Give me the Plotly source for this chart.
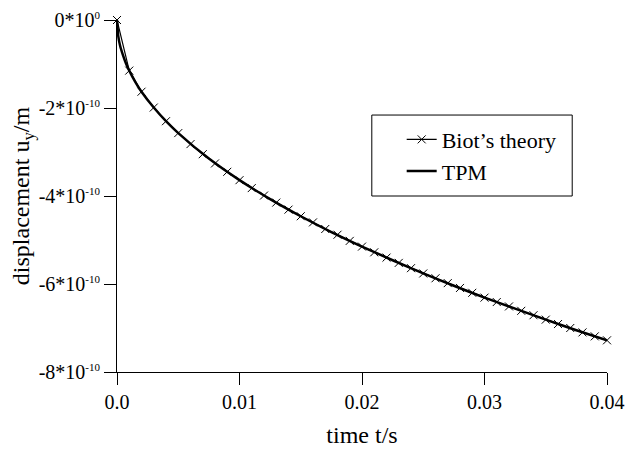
import plotly.graph_objects as go

# Biot's theory: time [s] and displacement [1e-10 m] (every 0.001 s)
biot_t = [0.000, 0.001, 0.002, 0.003, 0.004, 0.005, 0.006, 0.007, 0.008, 0.009,
          0.010, 0.011, 0.012, 0.013, 0.014, 0.015, 0.016, 0.017, 0.018, 0.019,
          0.020, 0.021, 0.022, 0.023, 0.024, 0.025, 0.026, 0.027, 0.028, 0.029,
          0.030, 0.031, 0.032, 0.033, 0.034, 0.035, 0.036, 0.037, 0.038, 0.039, 0.040]
biot_u = [0.00, -1.15, -1.63, -1.99, -2.30, -2.57, -2.82, -3.05, -3.26, -3.45,
          -3.64, -3.82, -3.99, -4.15, -4.31, -4.46, -4.60, -4.75, -4.88, -5.02,
          -5.15, -5.28, -5.40, -5.52, -5.64, -5.76, -5.87, -5.98, -6.09, -6.20,
          -6.31, -6.41, -6.51, -6.61, -6.71, -6.81, -6.91, -7.00, -7.10, -7.19, -7.28]

# TPM curve: time [s] and displacement [1e-10 m]
tpm_t = [0.0, 0.0001, 0.00025, 0.0005, 0.00075, 0.001, 0.0015, 0.002, 0.003, 0.004,
         0.005, 0.0075, 0.010, 0.0125, 0.015, 0.0175, 0.020, 0.0225, 0.025,
         0.0275, 0.030, 0.0325, 0.035, 0.0375, 0.040]
tpm_u = [0.00, -0.36, -0.58, -0.81, -1.00, -1.15, -1.41, -1.63, -1.99, -2.30,
         -2.57, -3.15, -3.64, -4.07, -4.46, -4.82, -5.15, -5.46, -5.76,
         -6.04, -6.31, -6.56, -6.81, -7.05, -7.28]

x_ticks = [0.0, 0.01, 0.02, 0.03, 0.04]
x_ticktext = ["0.0", "0.01", "0.02", "0.03", "0.04"]
y_ticks = [0, -2, -4, -6, -8]
y_mant = ["0", "-2", "-4", "-6", "-8"]
y_exp = ["0", "-10", "-10", "-10", "-10"]
y_ticktext = [f"{m}*10<sup><span style='font-size:11px'>{e}</span></sup>"
              for m, e in zip(y_mant, y_exp)]

scale = 1e-10
font = "Liberation Serif, Times New Roman, serif"

fig = go.Figure()
fig.add_trace(go.Scatter(
    x=biot_t, y=[v * scale for v in biot_u], name="Biot\u2019s theory",
    mode="lines+markers", line=dict(color="black", width=1.2),
    marker=dict(symbol="x-thin", size=8, line=dict(color="black", width=1)),
    cliponaxis=False))
fig.add_trace(go.Scatter(
    x=tpm_t, y=[v * scale for v in tpm_u], name="TPM",
    mode="lines", line=dict(color="black", width=2.5, shape="spline", smoothing=0.6),
    cliponaxis=False))

# the page places the figure 8 px from the top-left corner
fig.update_layout(
    width=633, height=441,
    margin=dict(l=109, r=34, t=12, b=77),
    paper_bgcolor="white", plot_bgcolor="white",
    font=dict(family=font, size=20, color="black"),
    showlegend=True,
    legend=dict(x=0.581, y=0.72, xanchor="left", yanchor="top",
                borderwidth=0, bgcolor="rgba(0,0,0,0)",
                font=dict(family=font, size=22, color="black"),
                tracegroupgap=0, itemwidth=30),
    shapes=[dict(type="rect", xref="paper", yref="paper",
                 x0=0.520, x1=0.929, y0=0.500, y1=0.730,
                 line=dict(color="black", width=1), fillcolor="rgba(0,0,0,0)",
                 layer="below")],
)
fig.update_xaxes(
    range=[0, 0.04], tickvals=x_ticks, ticktext=x_ticktext, automargin=False,
    showline=True, linecolor="black", linewidth=1, showgrid=False, zeroline=False,
    ticks="outside", ticklen=12, tickcolor="black", tickwidth=1,
    tickfont=dict(family=font, size=20),
    title=dict(text="time t/s", font=dict(family=font, size=24), standoff=14),
)
fig.update_yaxes(
    range=[-8e-10, 0], tickvals=[v * scale for v in y_ticks], ticktext=y_ticktext,
    automargin=False,
    showline=True, linecolor="black", linewidth=1, showgrid=False, zeroline=False,
    ticks="outside", ticklen=12, tickcolor="black", tickwidth=1,
    tickfont=dict(family=font, size=20),
    title=dict(text="displacement u<sub>y</sub>/m", font=dict(family=font, size=24), standoff=2),
)

fig.write_html("out.html")
